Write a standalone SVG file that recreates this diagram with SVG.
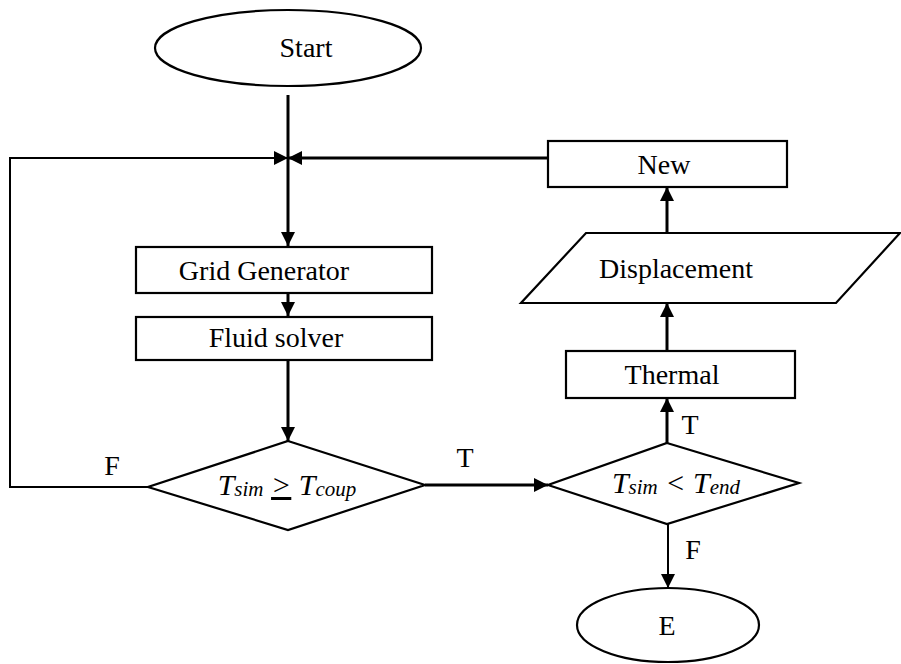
<svg xmlns="http://www.w3.org/2000/svg" width="901" height="664" viewBox="0 0 901 664">
<defs>
<marker id="ah" viewBox="0 0 10 10" refX="10" refY="5" markerWidth="14" markerHeight="14" markerUnits="userSpaceOnUse" orient="auto">
<path d="M0,0 L10,5 L0,10 z" fill="#000"/>
</marker>
</defs>
<style>
.shape{fill:#fff;stroke:#000;stroke-width:2.2}
.con{fill:none;stroke:#000;stroke-width:3}
.thin{fill:none;stroke:#000;stroke-width:2}
.lbl{font-size:28px;fill:#000;text-anchor:middle}
.it{font-style:italic;font-size:30px}
.sub{font-size:21px}
</style>
<g id="connectors">
<line class="con" x1="288" y1="95" x2="288" y2="246" marker-end="url(#ah)"/>
<polyline class="thin" points="148,487 10,487 10,158 288,158" marker-end="url(#ah)"/>
<line class="con" x1="548" y1="158" x2="288" y2="158" marker-end="url(#ah)"/>
<line class="con" x1="288" y1="294" x2="288" y2="316" marker-end="url(#ah)"/>
<line class="con" x1="288" y1="360" x2="288" y2="441" marker-end="url(#ah)"/>
<line class="con" x1="425" y1="485" x2="548" y2="485" marker-end="url(#ah)"/>
<line class="con" x1="667" y1="443" x2="667" y2="398" marker-end="url(#ah)"/>
<line class="con" x1="667" y1="351" x2="667" y2="303" marker-end="url(#ah)"/>
<line class="con" x1="667" y1="233" x2="667" y2="187" marker-end="url(#ah)"/>
<line class="thin" x1="668" y1="524" x2="668" y2="588" marker-end="url(#ah)"/>
<text class="lbl" font-family="'Liberation Serif','DejaVu Serif',serif" x="112" y="475">F</text>
<text class="lbl" font-family="'Liberation Serif','DejaVu Serif',serif" x="465" y="467">T</text>
<text class="lbl" font-family="'Liberation Serif','DejaVu Serif',serif" x="690" y="434">T</text>
<text class="lbl" font-family="'Liberation Serif','DejaVu Serif',serif" x="693" y="559">F</text>
</g>
<g id="start">
<ellipse class="shape" cx="288" cy="48" rx="133" ry="38"/>
<text class="lbl" font-family="'Liberation Serif','DejaVu Serif',serif" x="306" y="57">Start</text>
</g>
<g id="grid">
<rect class="shape" x="136" y="247" width="296" height="46"/>
<text class="lbl" font-family="'Liberation Serif','DejaVu Serif',serif" x="264" y="280">Grid Generator</text>
</g>
<g id="fluid">
<rect class="shape" x="136" y="317" width="296" height="43"/>
<text class="lbl" font-family="'Liberation Serif','DejaVu Serif',serif" x="276" y="347">Fluid solver</text>
</g>
<g id="decision1">
<polygon class="shape" points="288,441 425,485 288,530 148,487"/>
<text class="lbl it" font-family="'Liberation Serif','DejaVu Serif',serif" x="287" y="495">T<tspan class="sub" dy="1">sim</tspan><tspan dy="-1"> </tspan><tspan text-decoration="underline">&gt;</tspan> T<tspan class="sub" dy="1">coup</tspan></text>
</g>
<g id="decision2">
<polygon class="shape" points="667,443 799,483 667,524 548,485"/>
<text class="lbl it" font-family="'Liberation Serif','DejaVu Serif',serif" x="676" y="493">T<tspan class="sub" dy="1">sim</tspan><tspan dy="-1"> &lt; T</tspan><tspan class="sub" dy="1">end</tspan></text>
</g>
<g id="thermal">
<rect class="shape" x="566" y="351" width="229" height="47"/>
<text class="lbl" font-family="'Liberation Serif','DejaVu Serif',serif" x="672" y="384">Thermal</text>
</g>
<g id="displacement">
<polygon class="shape" points="586,233 900,233 836,303 521,303"/>
<text class="lbl" font-family="'Liberation Serif','DejaVu Serif',serif" x="676" y="278">Displacement</text>
</g>
<g id="new">
<rect class="shape" x="548" y="141" width="239" height="46"/>
<text class="lbl" font-family="'Liberation Serif','DejaVu Serif',serif" x="664" y="174">New</text>
</g>
<g id="end">
<ellipse class="shape" cx="668" cy="625" rx="91" ry="37"/>
<text class="lbl" font-family="'Liberation Serif','DejaVu Serif',serif" x="667" y="635">E</text>
</g>
</svg>
